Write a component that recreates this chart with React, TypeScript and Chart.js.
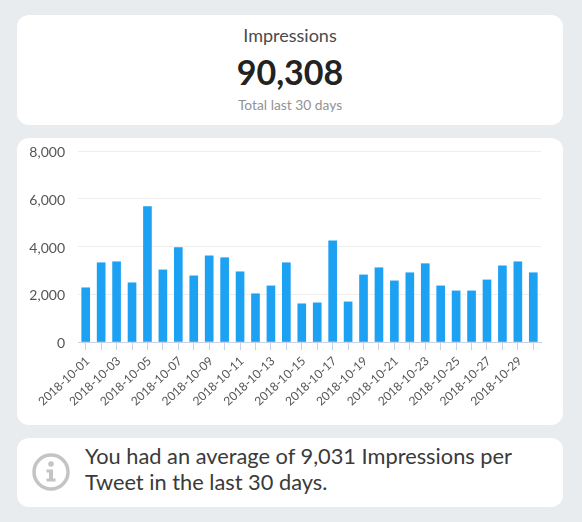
import React, { useEffect, useRef } from "react";
import { Chart, registerables } from "chart.js";

Chart.register(...registerables);

const categories = [
  "2018-10-01", "2018-10-02", "2018-10-03", "2018-10-04", "2018-10-05", "2018-10-06",
  "2018-10-07", "2018-10-08", "2018-10-09", "2018-10-10", "2018-10-11", "2018-10-12",
  "2018-10-13", "2018-10-14", "2018-10-15", "2018-10-16", "2018-10-17", "2018-10-18",
  "2018-10-19", "2018-10-20", "2018-10-21", "2018-10-22", "2018-10-23", "2018-10-24",
  "2018-10-25", "2018-10-26", "2018-10-27", "2018-10-28", "2018-10-29", "2018-10-30",
];
const impressions = [
  2270, 3320, 3360, 2480, 5670, 3020, 3950, 2770, 3610, 3530,
  2940, 2020, 2350, 3320, 1600, 1640, 4240, 1680, 2810, 3110,
  2560, 2900, 3280, 2350, 2140, 2140, 2600, 3190, 3360, 2900,
];

const FONT = "Lato, 'Open Sans', sans-serif";

const card: React.CSSProperties = {
  position: "absolute",
  left: 17,
  width: 546,
  background: "#fff",
  borderRadius: 12,
};

export default function App() {
  const ref = useRef<HTMLCanvasElement>(null);

  useEffect(() => {
    const chart = new Chart(ref.current!, {
      type: "bar",
      data: {
        labels: categories,
        datasets: [
          {
            label: "Impressions",
            data: impressions,
            backgroundColor: "#1da1f2",
            barThickness: 8,
          },
        ],
      },
      options: {
        animation: false,
        responsive: false,
        devicePixelRatio: 1,
        layout: { padding: { top: 13, right: 22, bottom: 0, left: 0 } },
        plugins: { legend: { display: false }, tooltip: { enabled: false } },
        scales: {
          x: {
            offset: true,
            afterFit: (s: any) => {
              s.height = 83;
              s.paddingTop = 0;
              s.paddingBottom = 0;
            },
            grid: {
              offset: false,
              drawOnChartArea: false,
              drawTicks: true,
              tickLength: 8,
              tickColor: "#c9d1e8",
              tickWidth: 1,
            },
            border: { color: "#c9d1e8", width: 1 },
            ticks: {
              color: "#555555",
              font: { family: FONT, size: 12 },
              maxRotation: 43,
              minRotation: 43,
              autoSkip: false,
              padding: 4,
              labelOffset: 2,
              callback: function (this: any, _v: any, i: number) {
                return i % 2 === 0 ? categories[i] : "";
              },
            },
          },
          y: {
            min: 0,
            max: 8000,
            afterFit: (s: any) => {
              s.width = 61;
              s.paddingTop = 0;
              s.paddingBottom = 0;
            },
            grid: { color: "#eeeeee", drawTicks: false, lineWidth: 1 },
            border: { display: false },
            ticks: {
              stepSize: 2000,
              color: "#555555",
              padding: 13,
              labelOffset: 1.5,
              font: { family: FONT, size: 14 },
              callback: (v: any) => Number(v).toLocaleString("en-US"),
            },
          },
        },
      },
    });
    return () => chart.destroy();
  }, []);

  return (
    <div
      style={{
        position: "absolute",
        left: 0,
        top: 0,
        width: 582,
        height: 522,
        background: "#e9ecef",
        overflow: "hidden",
        fontFamily: FONT,
      }}
    >
      <div style={{ ...card, top: 15, height: 110, textAlign: "center" }}>
        <div style={{ position: "absolute", left: 0, right: 0, top: 9, fontSize: 18, lineHeight: "22px", color: "#4a4a4a" }}>
          Impressions
        </div>
        <div style={{ position: "absolute", left: 0, right: 0, top: 35, fontSize: 34, lineHeight: "44px", fontWeight: 700, color: "#222" }}>
          90,308
        </div>
        <div style={{ position: "absolute", left: 0, right: 0, top: 81, fontSize: 13.8, lineHeight: "18px", color: "#929292" }}>
          Total last 30 days
        </div>
      </div>

      <div style={{ ...card, top: 138, height: 287 }}>
        <canvas ref={ref} width={546} height={287} style={{ display: "block" }} />
      </div>

      <div style={{ ...card, top: 438, height: 69 }}>
        <svg width={40} height={40} viewBox="0 0 40 40" style={{ position: "absolute", left: 14, top: 14 }}>
          <circle cx={20} cy={20} r={17} fill="none" stroke="#c4c4c4" strokeWidth={3.5} />
          <circle cx={20} cy={12} r={2.8} fill="#c4c4c4" />
          <path d="M15.5 17.5h6.5v9h2.5v3h-9v-3h2.5v-6h-2.5z" fill="#c4c4c4" />
        </svg>
        <div style={{ position: "absolute", left: 68, top: 5, fontSize: 21.8, lineHeight: "26px", color: "#3a3a3a", whiteSpace: "nowrap" }}>
          You had an average of 9,031 Impressions per
          <br />
          Tweet in the last 30 days.
        </div>
      </div>
    </div>
  );
}
